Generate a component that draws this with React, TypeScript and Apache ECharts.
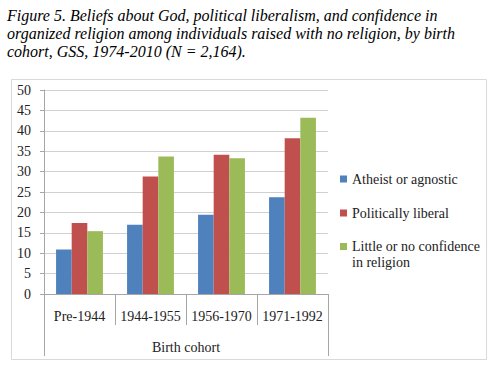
import React, { useEffect, useRef } from "react";
import * as echarts from "echarts";

const categories = ["Pre-1944", "1944-1955", "1956-1970", "1971-1992"];
const atheist = [10.9, 17.0, 19.4, 23.7];
const liberal = [17.4, 28.8, 34.1, 38.2];
const noConfidence = [15.4, 33.7, 33.3, 43.2];
const seriesNames = [
  "Atheist or agnostic",
  "Politically liberal",
  "Little or no confidence in religion",
];
const outerCategory = ["Birth cohort"];
const titleLines = [
  "Figure 5. Beliefs about God, political liberalism, and confidence in",
  "organized religion among individuals raised with no religion, by birth",
  "cohort, GSS, 1974-2010 (N = 2,164).",
];

const FONT = "'Liberation Serif', 'Times New Roman', serif";
const TEXT = "#222";
const AXIS = "#A6A6A6";
const GRID = "#D0D0D0";

export default function App() {
  const ref = useRef<HTMLDivElement>(null);
  useEffect(() => {
    if (!ref.current) return;
    const chart = echarts.init(ref.current, null, { renderer: "svg" });
    const legendText = {
      fontFamily: FONT,
      fontSize: 14,
      color: TEXT,
      lineHeight: 16,
    };
    chart.setOption({
      animation: false,
      backgroundColor: "#fff",
      textStyle: { fontFamily: FONT },
      title: {
        text: titleLines.join("\n"),
        left: 7,
        top: 6,
        padding: 0,
        textStyle: {
          fontFamily: FONT,
          fontStyle: "italic",
          fontWeight: "normal",
          fontSize: 16,
          lineHeight: 18,
          color: "#000",
        },
      },
      graphic: [
        {
          type: "rect",
          shape: { x: 11.5, y: 79.5, width: 475, height: 280 },
          style: { fill: "none", stroke: "#D9D9D9", lineWidth: 1 },
          z: -1,
        },
      ],
      grid: { left: 44, right: 169, top: 90, bottom: 71 },
      legend: [
        {
          orient: "vertical",
          left: 340,
          top: 171,
          padding: 0,
          itemGap: 18,
          itemWidth: 7,
          itemHeight: 7,
          icon: "rect",
          data: [seriesNames[0], seriesNames[1]],
          textStyle: legendText,
        },
        {
          orient: "vertical",
          left: 340,
          top: 222.5,
          padding: 0,
          itemWidth: 7,
          itemHeight: 7,
          icon: "rect",
          data: [seriesNames[2]],
          formatter: () => "\nLittle or no confidence\nin religion",
          textStyle: legendText,
        },
      ],
      xAxis: [
        {
          type: "category",
          data: categories,
          axisLine: { lineStyle: { color: AXIS } },
          axisTick: { show: true, length: 31, alignWithLabel: false, interval: 0, lineStyle: { color: AXIS } },
          axisLabel: { interval: 0, hideOverlap: false, margin: 15, fontFamily: FONT, fontSize: 14, color: TEXT },
          splitLine: { show: false },
        },
        {
          type: "category",
          data: outerCategory,
          position: "bottom",
          offset: 31,
          axisLine: { show: false },
          axisTick: { show: true, length: 31, alignWithLabel: false, lineStyle: { color: AXIS } },
          axisLabel: { interval: 0, margin: 15, fontFamily: FONT, fontSize: 14, color: TEXT },
          splitLine: { show: false },
        },
      ],
      yAxis: {
        type: "value",
        min: 0,
        max: 50,
        interval: 5,
        axisLine: { show: true, lineStyle: { color: AXIS } },
        axisTick: { show: true, length: 4, lineStyle: { color: AXIS } },
        axisLabel: { margin: 13, fontFamily: FONT, fontSize: 14, color: TEXT },
        splitLine: { show: true, lineStyle: { color: GRID } },
      },
      series: [
        { name: seriesNames[0], type: "bar", data: atheist, itemStyle: { color: "#4F81BD" }, barGap: "0%", barCategoryGap: "34%" },
        { name: seriesNames[1], type: "bar", data: liberal, itemStyle: { color: "#C0504D" }, barGap: "0%", barCategoryGap: "34%" },
        { name: seriesNames[2], type: "bar", data: noConfidence, itemStyle: { color: "#9BBB59" }, barGap: "0%", barCategoryGap: "34%" },
      ],
    });
    return () => chart.dispose();
  }, []);
  return (
    <div
      ref={ref}
      style={{ position: "fixed", left: 0, top: 0, width: 497, height: 365, background: "#fff" }}
    />
  );
}
